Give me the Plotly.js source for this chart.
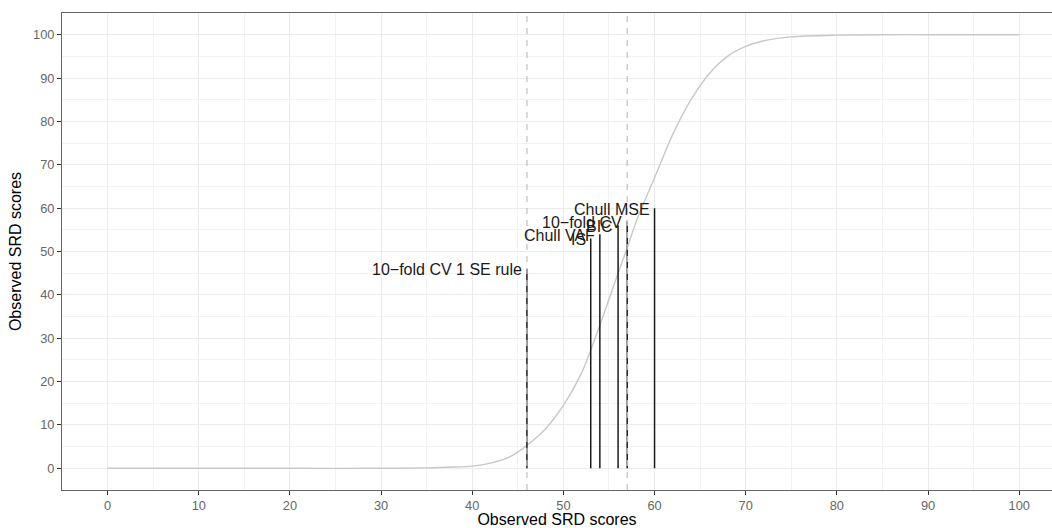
<!DOCTYPE html>
<html>
<head>
<meta charset="utf-8">
<script src="https://cdn.plot.ly/plotly-3.0.1.min.js"></script>
<style>html,body{margin:0;padding:0;background:#fff;}#chart{width:1052px;height:528px;}</style>
</head>
<body>
<div id="chart"></div>
<script>
// Curve
const curveX = [0, 10, 20, 30, 35, 38, 40, 42, 44, 46, 48, 50, 52, 54, 56, 57, 58, 60, 62, 64, 66, 68, 70, 72, 75, 80, 85, 90, 100];
const curveY = [0, 0, 0, 0, 0.1, 0.3, 0.5, 1.2, 2.5, 5.3, 9, 14.5, 22, 33, 45, 50.8, 57, 67, 77, 85, 91, 95, 97.3, 98.6, 99.5, 99.9, 100, 100, 100];

// Method segments
const methodLabels = ["10−fold CV 1 SE rule", "IS", "Chull VAF", "BIC", "10−fold CV", "Chull MSE"];
const methodX = [46, 53, 54, 56, 57, 60];
const methodY = [46, 53, 54, 56, 57, 60];

// Dashed reference lines
const refLines = [46, 57];

const xTicks = [0, 10, 20, 30, 40, 50, 60, 70, 80, 90, 100];
const yTicks = [0, 10, 20, 30, 40, 50, 60, 70, 80, 90, 100];

const segX = [], segY = [];
methodX.forEach((x, i) => { segX.push(x, x, null); segY.push(0, methodY[i], null); });

const traces = [
  {x: curveX, y: curveY, mode: 'lines', line: {color: '#c8c8c8', width: 1.4, shape: 'spline', smoothing: 0.8}, hoverinfo: 'skip'},
  {x: segX, y: segY, mode: 'lines', line: {color: '#1a1a1a', width: 1.5}, hoverinfo: 'skip'}
];

const annotations = methodLabels.map((t, i) => ({
  x: methodX[i], y: methodY[i], xref: 'x', yref: 'y', text: t, showarrow: false,
  xanchor: 'right', yanchor: 'middle', xshift: -3, yshift: -1,
  font: {size: 16, color: '#1a1a1a'}
}));

const shapes = refLines.map(v => ({
  type: 'line', xref: 'x', yref: 'paper', x0: v, x1: v, y0: 0, y1: 1,
  line: {color: '#c4c4c4', width: 1.3, dash: '6px,6px'}, layer: 'above'
}));

const gridCol = '#ebebeb';
const layout = {
  width: 1052, height: 528,
  margin: {l: 61.5, r: 0, t: 12.5, b: 37.5},
  paper_bgcolor: '#ffffff', plot_bgcolor: '#ffffff',
  font: {family: 'Liberation Sans, Arial, sans-serif', color: '#000'},
  showlegend: false,
  xaxis: {
    range: [-5, 103.6], tickvals: xTicks, ticktext: xTicks.map(String),
    ticks: 'outside', ticklen: 4, tickwidth: 1, tickcolor: '#333',
    tickfont: {size: 12.8, color: '#666'},
    showgrid: true, gridcolor: gridCol, gridwidth: 1, zeroline: false,
    minor: {dtick: 5, tick0: 0, showgrid: true, gridcolor: '#f2f2f2', gridwidth: 1, ticks: ''},
    showline: true, linecolor: '#666', linewidth: 1, mirror: true,
    title: {text: 'Observed SRD scores', font: {size: 16, color: '#000'}, standoff: 3}
  },
  yaxis: {
    range: [-5, 105], tickvals: yTicks, ticktext: yTicks.map(String),
    ticks: 'outside', ticklen: 4, tickwidth: 1, tickcolor: '#333',
    tickfont: {size: 12.8, color: '#666'},
    showgrid: true, gridcolor: gridCol, gridwidth: 1, zeroline: false,
    minor: {dtick: 5, tick0: 0, showgrid: true, gridcolor: '#f2f2f2', gridwidth: 1, ticks: ''},
    showline: true, linecolor: '#666', linewidth: 1, mirror: false,
    title: {text: 'Observed SRD scores', font: {size: 16, color: '#000'}, standoff: 7}
  },
  annotations: annotations,
  shapes: shapes
};

Plotly.newPlot('chart', traces, layout, {staticPlot: true, displayModeBar: false});
</script>
</body>
</html>
